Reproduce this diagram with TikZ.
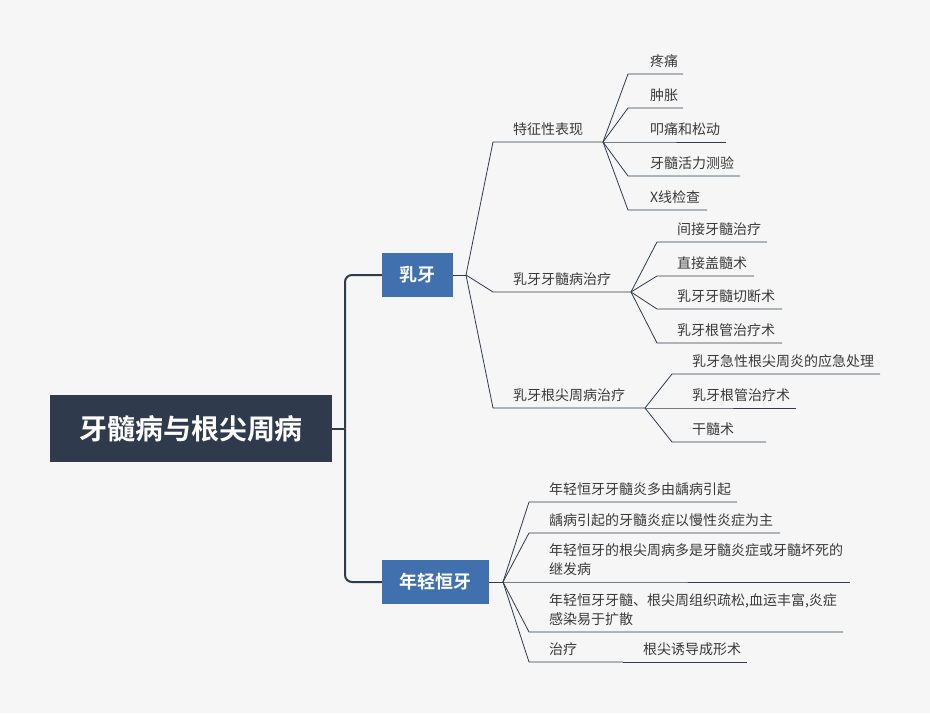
\documentclass[tikz,border=0pt]{standalone}
\usepackage{fontspec}
\setmainfont{Noto Sans CJK SC}[BoldFont={Noto Sans CJK SC Bold}]
\definecolor{bgc}{HTML}{F6F6F6}
\definecolor{darkc}{HTML}{2F3B4C}
\definecolor{boxc}{HTML}{4170AF}
\definecolor{txtc}{HTML}{3A3A3A}
\begin{document}
\begin{tikzpicture}[x=1pt,y=-1pt,line join=round,
  leaf/.style={anchor=west,inner sep=0pt,text=txtc,font=\fontsize{14}{19}\selectfont,align=left},
  ln/.style={draw=darkc,line width=0.8pt},
  mainln/.style={draw=darkc,line width=2pt,rounded corners=7pt},
  rootbox/.style={fill=darkc,text=white,font=\bfseries\fontsize{28}{30}\selectfont,minimum width=282pt,minimum height=67pt,inner sep=0pt},
  subbox/.style={fill=boxc,text=white,font=\bfseries\fontsize{18}{20}\selectfont,minimum height=44pt,inner sep=0pt}]
\fill[bgc] (0,0) rectangle (930,713);
\useasboundingbox (0,0) rectangle (930,713);

% root and main branches
\node[rootbox] (root) at (191,428.5) {牙髓病与根尖周病};
\node[subbox,minimum width=71pt] (ruya) at (417.5,275) {乳牙};
\node[subbox,minimum width=107pt] (heng) at (435.5,582) {年轻恒牙};
\coordinate (j0) at (345,428.5);
\draw[mainln] (root.east) -- (j0);
\draw[mainln] (j0) |- (ruya.west);
\draw[mainln] (j0) |- (heng.west);

% 乳牙 level 2
\coordinate (r0) at (466,275);
\draw[ln] (ruya.east) -- (r0);
\node[leaf] (a) at (513,129) {特征性表现};
\node[leaf] (b) at (513,279) {乳牙牙髓病治疗};
\node[leaf] (c) at (513,395) {乳牙根尖周病治疗};
\coordinate (as) at (493,142); \coordinate (ae) at (603,142);
\coordinate (bs) at (493,292); \coordinate (be) at (631,292);
\coordinate (cs) at (493,408); \coordinate (ce) at (645,408);
\draw[ln] (r0) -- (as) -- (ae);
\draw[ln] (r0) -- (bs) -- (be);
\draw[ln] (r0) -- (cs) -- (ce);

% 特征性表现 leaves
\node[leaf] (a1) at (650,61) {疼痛};
\node[leaf] (a2) at (650,95) {肿胀};
\node[leaf] (a3) at (650,129) {叩痛和松动};
\node[leaf] (a4) at (650,163) {牙髓活力测验};
\node[leaf] (a5) at (650,197) {X线检查};
\coordinate (a1s) at (628,74);  \coordinate (a1e) at (683,74);
\coordinate (a2s) at (628,108); \coordinate (a2e) at (683,108);
\coordinate (a3s) at (628,142); \coordinate (a3e) at (726,142);
\coordinate (a4s) at (628,176); \coordinate (a4e) at (740,176);
\coordinate (a5s) at (628,210); \coordinate (a5e) at (707,210);
\foreach \k in {1,...,5} {\draw[ln] (ae) -- (a\k s) -- (a\k e);}

% 乳牙牙髓病治疗 leaves
\node[leaf] (b1) at (677,229) {间接牙髓治疗};
\node[leaf] (b2) at (677,263) {直接盖髓术};
\node[leaf] (b3) at (677,296) {乳牙牙髓切断术};
\node[leaf] (b4) at (677,330) {乳牙根管治疗术};
\coordinate (b1s) at (657,242); \coordinate (b1e) at (767,242);
\coordinate (b2s) at (657,276); \coordinate (b2e) at (754,276);
\coordinate (b3s) at (657,309); \coordinate (b3e) at (782,309);
\coordinate (b4s) at (657,343); \coordinate (b4e) at (782,343);
\foreach \k in {1,...,4} {\draw[ln] (be) -- (b\k s) -- (b\k e);}

% 乳牙根尖周病治疗 leaves
\node[leaf] (c1) at (692,361) {乳牙急性根尖周炎的应急处理};
\node[leaf] (c2) at (692,395) {乳牙根管治疗术};
\node[leaf] (c3) at (692,429) {干髓术};
\coordinate (c1s) at (672,374); \coordinate (c1e) at (880,374);
\coordinate (c2s) at (672,408); \coordinate (c2e) at (796,408);
\coordinate (c3s) at (672,442); \coordinate (c3e) at (766,442);
\foreach \k in {1,...,3} {\draw[ln] (ce) -- (c\k s) -- (c\k e);}

% 年轻恒牙 leaves
\coordinate (h0) at (503,582);
\draw[ln] (heng.east) -- (h0);
\node[leaf] (d1) at (549,489) {年轻恒牙牙髓炎多由龋病引起};
\node[leaf] (d2) at (549,520) {龋病引起的牙髓炎症以慢性炎症为主};
\node[leaf] (d3) at (549,559.5) {年轻恒牙的根尖周病多是牙髓炎症或牙髓坏死的\\继发病};
\node[leaf] (d4) at (549,609.5) {年轻恒牙牙髓、根尖周组织疏松,血运丰富,炎症\\感染易于扩散};
\node[leaf] (d5) at (549,649) {治疗};
\node[leaf] (d6) at (643,649) {根尖诱导成形术};
\coordinate (d1s) at (529,502); \coordinate (d1e) at (737,502);
\coordinate (d2s) at (529,533); \coordinate (d2e) at (780,533);
\coordinate (d3s) at (529,582); \coordinate (d3e) at (850,582);
\coordinate (d4s) at (529,632); \coordinate (d4e) at (843,632);
\coordinate (d5s) at (529,662); \coordinate (d5e) at (623,662);
\coordinate (d6e) at (747,662);
\foreach \k in {1,...,5} {\draw[ln] (h0) -- (d\k s) -- (d\k e);}
\draw[ln] (d5e) -- (d6e);
\end{tikzpicture}
\end{document}
